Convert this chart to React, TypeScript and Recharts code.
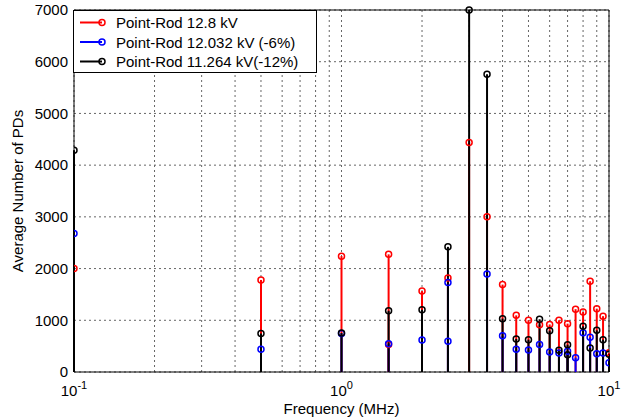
import React from 'react';
import { ScatterChart, Scatter, XAxis, YAxis, CartesianGrid, ErrorBar, ReferenceArea, Legend, Label } from 'recharts';

// frequencies (MHz) for each series
const redFreqs = [0.1, 0.5, 1, 1.5, 1.5, 2, 2.5, 3, 3.5, 4, 4.5, 5, 5.5, 6, 6.5, 7, 7.5, 8, 8.5, 9, 9.5, 10];
const redValues = [2000, 1780, 2240, 2275, 530, 1565, 1820, 4440, 3000, 1690, 1095, 1000, 915, 920, 1000, 935, 1215, 1160, 1755, 1225, 1080, 370];

const blueFreqs = [0.1, 0.5, 1, 1.5, 2, 2.5, 2.5, 3.5, 4, 4.5, 5, 5.5, 6, 6.5, 7, 7.5, 8, 8.5, 9, 9.5, 10];
const blueValues = [2680, 440, 745, 548, 620, 1730, 595, 1895, 700, 440, 425, 530, 385, 365, 400, 277, 760, 670, 355, 365, 180];

const blackFreqs = [0.1, 0.5, 1, 1.5, 2, 2.5, 3, 3.5, 4, 4.5, 5, 5.5, 6, 6.5, 7, 7, 8, 8.5, 9, 9.5, 10];
const blackValues = [4290, 745, 752, 1185, 1205, 2420, 7000, 5760, 1032, 640, 626, 1019, 800, 420, 529, 335, 884, 465, 806, 626, 342];

const xTicks = [0.1, 0.2, 0.3, 0.4, 0.5, 0.6, 0.7, 0.8, 0.9, 1, 2, 3, 4, 5, 6, 7, 8, 9, 10];
const xLabelTicks = [0.1, 1, 10];
const yTicks = [0, 1000, 2000, 3000, 4000, 5000, 6000, 7000];

const seriesNames = ['Point-Rod 12.8 kV', 'Point-Rod 12.032 kV (-6%)', 'Point-Rod 11.264 kV(-12%)'];
const seriesColors = ['#ff0000', '#0000ff', '#000000'];

const FONT = '"Liberation Sans", Arial, sans-serif';

// stem = error bar running from the value down to zero
const toPoints = (freqs: number[], values: number[]) =>
    freqs.map((f, i) => ({ x: f, y: values[i], stem: [values[i], 0] }));

const series = [
    toPoints(redFreqs, redValues),
    toPoints(blueFreqs, blueValues),
    toPoints(blackFreqs, blackValues),
];

// x tick: only label the decades, as 10^n
const LogTick = (props: any) => {
    const { x, y, payload } = props;
    const v = payload.value;
    if (!xLabelTicks.some(t => Math.abs(t - v) < 1e-9)) return <g />;
    const exp = Math.round(Math.log10(v));
    return (
        <text x={x} y={y + 16} textAnchor="middle" fontSize={15} fontFamily={FONT} fill="#000">
            <tspan>10</tspan>
            <tspan dy={-7} fontSize={11}>{exp}</tspan>
        </text>
    );
};

const LegendBox = () => (
    <svg width={244} height={63} style={{ display: 'block' }}>
        <rect x={0.5} y={0.5} width={243} height={62} fill="#fff" stroke="#000" strokeWidth={1} />
        {seriesNames.map((name, i) => {
            const cy = 12.5 + i * 19.5;
            return (
                <g key={name}>
                    <line x1={7} x2={29} y1={cy} y2={cy} stroke={seriesColors[i]} strokeWidth={2} />
                    <circle cx={29} cy={cy} r={3} fill="none" stroke={seriesColors[i]} strokeWidth={1.5} />
                    <text x={43} y={cy + 5.5} fontSize={15} fontFamily={FONT} fill="#000">{name}</text>
                </g>
            );
        })}
    </svg>
);

export default function App() {
    return (
        <div style={{ position: 'absolute', left: 0, top: 0, width: 626, height: 420, background: '#fff' }}>
            <ScatterChart width={626} height={420} margin={{ top: 10, right: 17, bottom: 0, left: 0 }}>
                <CartesianGrid stroke="#666" strokeDasharray="2 3" />
                <XAxis
                    dataKey="x"
                    type="number"
                    scale="log"
                    domain={[0.1, 10]}
                    allowDataOverflow
                    ticks={xTicks}
                    interval={0}
                    height={48}
                    axisLine={false}
                    tickLine={false}
                    tick={<LogTick />}
                >
                    <Label
                        content={(p: any) => {
                            const vb = p.viewBox;
                            return (
                                <text x={vb.x + vb.width / 2} y={vb.y + 42} textAnchor="middle" fontSize={15} fontFamily={FONT} fill="#000">
                                    Frequency (MHz)
                                </text>
                            );
                        }}
                    />
                </XAxis>
                <YAxis
                    dataKey="y"
                    type="number"
                    domain={[0, 7000]}
                    ticks={yTicks}
                    interval={0}
                    width={74}
                    axisLine={false}
                    tickLine={false}
                    tickSize={4}
                    tickMargin={2}
                    tick={{ fontSize: 15, fontFamily: FONT, fill: '#000' }}
                >
                    <Label
                        content={(p: any) => {
                            const vb = p.viewBox;
                            const cx = vb.x + 23;
                            const cy = vb.y + vb.height / 2;
                            return (
                                <text x={cx} y={cy} transform={`rotate(-90 ${cx} ${cy})`} textAnchor="middle" fontSize={15} fontFamily={FONT} fill="#000">
                                    Average Number of PDs
                                </text>
                            );
                        }}
                    />
                </YAxis>
                <ReferenceArea x1={0.1} x2={10} y1={0} y2={7000} fill="none" fillOpacity={0} stroke="#000" strokeWidth={1} />
                {series.map((data, i) => (
                    <Scatter
                        key={seriesNames[i]}
                        name={seriesNames[i]}
                        data={data}
                        isAnimationActive={false}
                        shape={(p: any) => (
                            <circle cx={p.cx} cy={p.cy} r={3} fill="none" stroke={seriesColors[i]} strokeWidth={1.5} />
                        )}
                    >
                        <ErrorBar
                            dataKey="stem"
                            direction="y"
                            width={0}
                            stroke={seriesColors[i]}
                            strokeWidth={2}
                            isAnimationActive={false}
                        />
                    </Scatter>
                ))}
                <Legend
                    layout="vertical"
                    align="center"
                    verticalAlign="middle"
                    wrapperStyle={{ left: 73, top: 10, width: 244, height: 63 }}
                    content={() => <LegendBox />}
                />
            </ScatterChart>
        </div>
    );
}
